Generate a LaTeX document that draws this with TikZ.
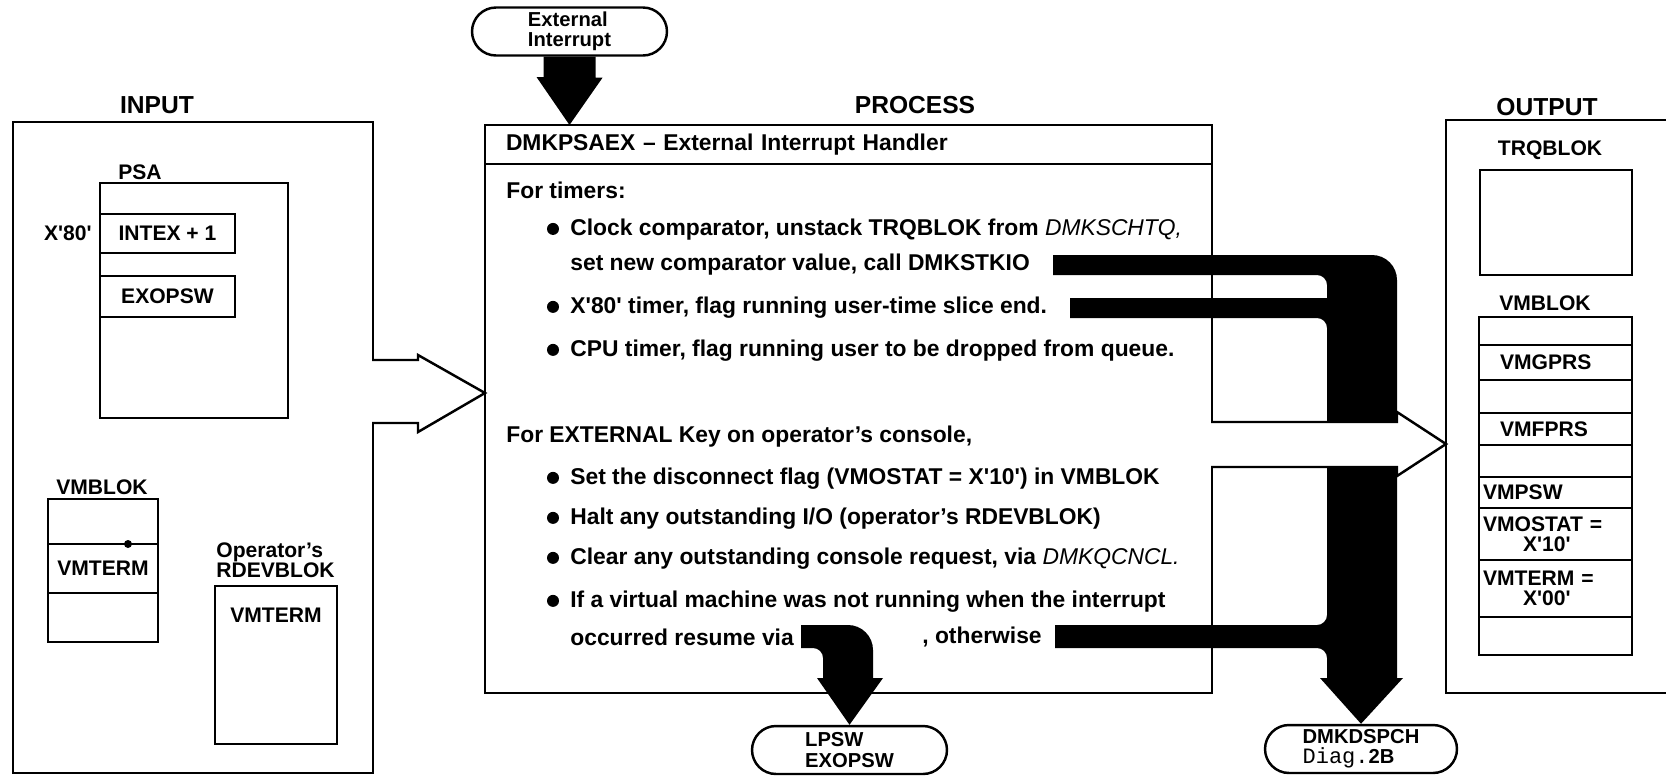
\documentclass[tikz,border=0pt]{standalone}
\usepackage{fontspec}
\setmainfont{Liberation Sans}
\newfontfamily\typefont{Liberation Mono}
\usetikzlibrary{positioning, shapes.misc, arrows.meta}
\newcommand\sq{\textquotesingle}
\newcommand\ptext{\fontsize{13}{15}\selectfont\bfseries}
\newcommand\tagfont{\fontsize{12}{11.5}\selectfont\bfseries}
\tikzset{
	nw/.style={anchor=north west},
	box/.style={draw, line width=1.4pt, inner sep=0pt, outer sep=0pt, font=\tagfont, align=center},
	row/.style={box, minimum width=3.06cm, text width=2.9cm, align=left},
	head/.style={font=\fontsize{14}{16}\selectfont\bfseries, inner sep=0pt},
	tag/.style={font=\tagfont, inner sep=0pt},
	txt/.style={font=\ptext, anchor=west, inner sep=0pt},
	term/.style={draw, line width=1.4pt, rounded rectangle, minimum width=3.9cm, minimum height=0.96cm, inner sep=0pt, align=left, font=\fontsize{11.5}{11.5}\selectfont\bfseries},
	hollow/.style={draw, line width=1.4pt, fill=white, line join=miter},
}
\begin{document}
\begin{tikzpicture}[x=0.02cm, y=-0.02cm]
	\useasboundingbox (0,0) rectangle (1666,775);
	
	\node[head] (inhd) at (157,105) {INPUT};
	\node[box, nw, minimum width=7.2cm, minimum height=13.02cm] (inbox) at (13,122) {};
	\node[tag] (psatag) at (140,172) {PSA};
	\node[box, nw, minimum width=3.76cm, minimum height=4.7cm] (psa) at (100,183) {};
	\node[tag, anchor=east] (x80tag) at (92,233) {X\sq80\sq};
	\node[box, nw, minimum width=2.7cm, minimum height=0.78cm] (intex) at (100,214) {INTEX + 1};
	\node[box, nw, minimum width=2.7cm, minimum height=0.82cm] (exo) at (100,276) {EXOPSW};
	\node[tag] (vmbtag) at (102,487) {VMBLOK};
	\node[box, nw, minimum width=2.2cm, minimum height=0.9cm] (vmb1) at (48,499) {};
	\node[box, below=0pt of vmb1, minimum width=2.2cm, minimum height=0.98cm] (vmb2) {VMTERM};
	\node[box, below=0pt of vmb2, minimum width=2.2cm, minimum height=0.98cm] (vmb3) {};
	\fill (128,544) circle (4);
	\node[tag, anchor=west, align=left] (rdevtag) at (216,560) {Operator's\\RDEVBLOK};
	\node[box, nw, minimum width=2.44cm, minimum height=3.16cm] (rdev) at (215,586) {};
	\node[tag] (rdevterm) at (276,615) {VMTERM};
	
	\node[head] (prhd) at (915,105) {PROCESS};
	\node[box, nw, minimum width=14.54cm, minimum height=0.78cm, text width=13.7cm, align=left, font=\ptext] (ptitle) at (485,125) {DMKPSAEX -- External Interrupt Handler};
	\node[box, below=0pt of ptitle, minimum width=14.54cm, minimum height=10.58cm] (pbody) {};
	\node[txt] (tim) at (506,190) {For timers:};
	\node[txt] (clk) at (570,230) {Clock comparator, unstack TRQBLOK from {\mdseries\itshape DMKSCHTQ,}};
	\node[txt] (stk) at (570,265) {set new comparator value, call DMKSTKIO};
	\node[txt] (x80) at (570,308) {X\sq80\sq\ timer, flag running user-time slice end.};
	\node[txt] (cpu) at (570,351) {CPU timer, flag running user to be dropped from queue.};
	\node[txt] (key) at (506,437) {For EXTERNAL Key on operator's console,};
	\node[txt] (dis) at (570,479) {Set the disconnect flag (VMOSTAT = X\sq10\sq) in VMBLOK};
	\node[txt] (hlt) at (570,519) {Halt any outstanding I/O (operator's RDEVBLOK)};
	\node[txt] (clr) at (570,559) {Clear any outstanding console request, via {\mdseries\itshape DMKQCNCL.}};
	\node[txt] (virt) at (570,602) {If a virtual machine was not running when the interrupt};
	\node[txt] (res) at (570,637) {occurred resume via};
	\node[txt] (oth) at (922,637) {, otherwise};
	\foreach \n in {clk,x80,cpu,dis,hlt,clr,virt}
		\fill (\n.base west) ++(-17,-7) circle (6);
	
	\node[head] (outhd) at (1547,107) {OUTPUT};
	\node[box, nw, minimum width=4.7cm, minimum height=11.46cm] (outbox) at (1446,120) {};
	\node[tag] (trqtag) at (1550,150) {TRQBLOK};
	\node[box, nw, minimum width=3.04cm, minimum height=2.1cm] (trq) at (1480,170) {};
	\node[tag] (vmbtag2) at (1545,303) {VMBLOK};
	\node[row, nw, minimum height=0.56cm] (o1) at (1479,317) {};
	\node[row, below=0pt of o1, minimum height=0.7cm] (o2) {\hspace*{0.34cm}VMGPRS};
	\node[row, below=0pt of o2, minimum height=0.66cm] (o3) {};
	\node[row, below=0pt of o3, minimum height=0.64cm] (o4) {\hspace*{0.34cm}VMFPRS};
	\node[row, below=0pt of o4, minimum height=0.64cm] (o5) {};
	\node[row, below=0pt of o5, minimum height=0.62cm] (o6) {VMPSW};
	\node[row, below=0pt of o6, minimum height=1.04cm] (o7) {VMOSTAT =\\\hspace*{0.8cm}X\sq10\sq};
	\node[row, below=0pt of o7, minimum height=1.14cm] (o8) {VMTERM =\\\hspace*{0.8cm}X\sq00\sq};
	\node[row, below=0pt of o8, minimum height=0.76cm] (o9) {};
	
	\node[term] (ext) at (569.5,31.5) {External\\Interrupt};
	\node[term] (lp) at (849.5,750) {LPSW\\EXOPSW};
	\node[term, minimum width=3.84cm] (dsp) at (1361,749) {DMKDSPCH\\{\typefont\mdseries\fontsize{12.5}{12}\selectfont Diag.}2B};
	
	\fill (ext.south) ++(-26,0) -- ++(52,0) -- ++(0,21) -- ++(7,0) -- (ext.south |- ptitle.north) -- ++(-33,-48) -- ++(7,0) -- cycle;
	\fill (801,625) [rounded corners=0.5cm] -- (873,625) [sharp corners] -- (873,678) -- (883,678) -- (lp.north) -- (817,678) -- (823,678) [rounded corners=0.2cm] -- (823,648) [sharp corners] -- (801,648) -- cycle;
	\fill (1053,255) [rounded corners=0.5cm] -- (1397,255) [sharp corners] -- (1397,678) -- (1403,678) -- (dsp.north) -- (1320,678) -- (1327,678) [rounded corners=0.2cm] -- (1327,648) [sharp corners] -- (1055,648) -- (1055,625) [rounded corners=0.2cm] -- (1327,625) -- (1327,318) [sharp corners] -- (1070,318) -- (1070,298) -- (1327,298) [rounded corners=0.2cm] -- (1327,275) [sharp corners] -- (1053,275) -- cycle;
	
	\filldraw[hollow] (372,360) -- (418,360) -- (418,355) -- (pbody.west |- 0,393) -- (418,432) -- (418,423) -- (372,423);
	\filldraw[hollow] (1211,422) -- (1397,422) -- (1397,412) -- (outbox.west |- 0,444) -- (1397,476) -- (1397,467) -- (1211,467);
	
\end{tikzpicture}
\end{document}
